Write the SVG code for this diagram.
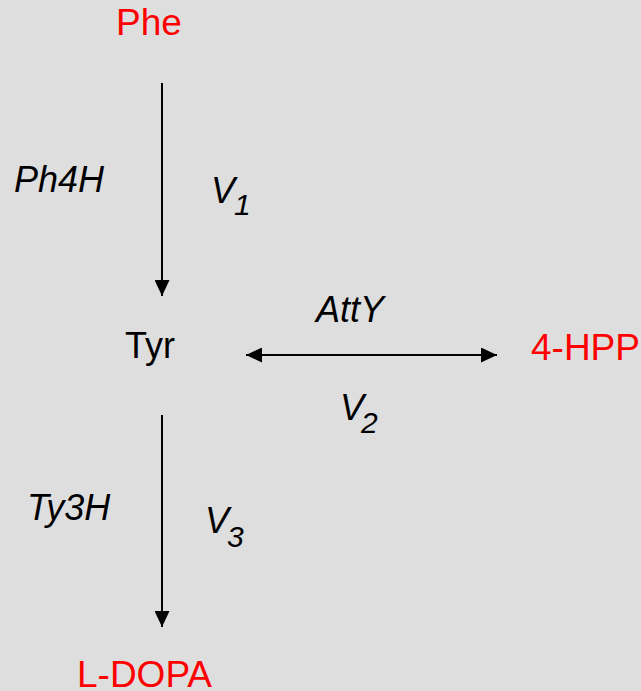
<svg xmlns="http://www.w3.org/2000/svg" width="641" height="691" viewBox="0 0 641 691">
<style>
text{font-family:"Liberation Sans",Arial,sans-serif;font-size:36px;fill:#000}
.red{fill:#FF0000;font-size:37px}
.it{font-style:italic}
.sub{font-size:30px;font-style:italic}
.ln{stroke:#000;stroke-width:2;fill:none}
</style>
<defs>
<marker id="ah" markerUnits="userSpaceOnUse" markerWidth="16" markerHeight="15" refX="16" refY="7.5" orient="auto-start-reverse">
<path d="M0,0 L16,7.5 L0,15 z" fill="#000"/>
</marker>
</defs>
<rect width="641" height="691" fill="#DEDEDE"/>
<g id="connectors">
<line class="ln" x1="162" y1="83" x2="162" y2="296" marker-end="url(#ah)"/>
<line class="ln" x1="246" y1="355" x2="497" y2="355" marker-start="url(#ah)" marker-end="url(#ah)"/>
<line class="ln" x1="162" y1="415" x2="162" y2="627" marker-end="url(#ah)"/>
</g>
<g id="phe"><text class="red" x="116" y="35">Phe</text></g>
<g id="tyr"><text x="125" y="358">Tyr</text></g>
<g id="hpp"><text class="red" x="531" y="360">4-HPP</text></g>
<g id="ldopa"><text class="red" x="77" y="687">L-DOPA</text></g>
<g id="ph4h"><text class="it" x="14" y="192">Ph4H</text></g>
<g id="v1"><text class="it" x="211" y="203">V</text><text class="sub" x="234" y="215">1</text></g>
<g id="atty"><text class="it" x="316" y="322">AttY</text></g>
<g id="v2"><text class="it" x="340" y="420">V</text><text class="sub" x="361" y="433">2</text></g>
<g id="ty3h"><text class="it" x="27" y="520">Ty3H</text></g>
<g id="v3"><text class="it" x="205" y="533">V</text><text class="sub" x="227" y="547">3</text></g>
</svg>
